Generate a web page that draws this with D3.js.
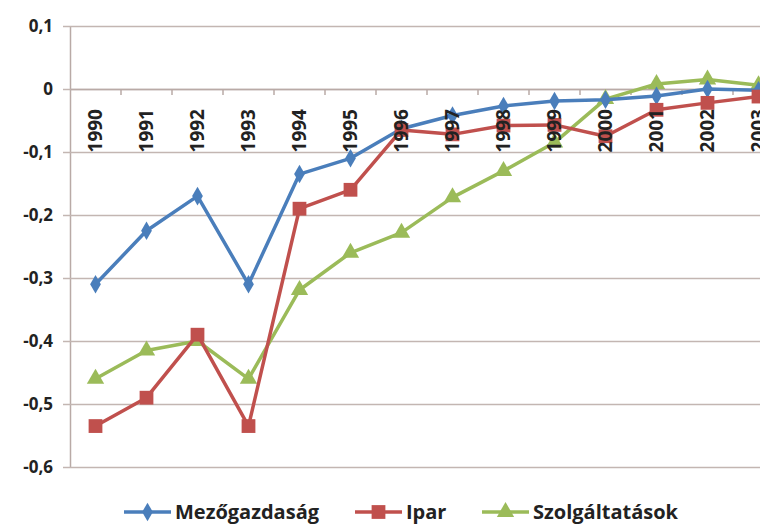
<!DOCTYPE html>
<html>
<head>
<meta charset="utf-8">
<script src="https://cdn.jsdelivr.net/npm/d3@7"></script>
<style>
  body { margin: 0; background: #fff; }
  text { font-family: "Open Sans", sans-serif; font-weight: bold; fill: #222; }
</style>
</head>
<body>
<div id="container-id-1"></div>
<script>

// data
/////////////////////
var years = ['1990','1991','1992','1993','1994','1995','1996','1997','1998','1999','2000','2001','2002','2003'];

var mezogazdasag = [-0.31, -0.225, -0.17, -0.31, -0.135, -0.11, -0.063, -0.042, -0.027, -0.019, -0.017, -0.011, 0.0, -0.002];
var ipar = [-0.535, -0.49, -0.39, -0.535, -0.19, -0.16, -0.065, -0.072, -0.058, -0.057, -0.075, -0.033, -0.022, -0.012];
var szolgaltatasok = [-0.46, -0.415, -0.4, -0.46, -0.319, -0.26, -0.228, -0.172, -0.13, -0.085, -0.016, 0.008, 0.015, 0.006];

var y_ticks = [0.1, 0, -0.1, -0.2, -0.3, -0.4, -0.5, -0.6];

var series_names = ['Mezőgazdaság', 'Ipar', 'Szolgáltatások'];
var series_colors = ['#4a7ebb', '#c0504d', '#9bbb59'];
var series_symbols = [d3.symbolDiamond, d3.symbolSquare, d3.symbolTriangle];
var series_sizes = [100, 190, 130];

var all_series = [mezogazdasag, ipar, szolgaltatasok];

// make chart
////////////////////
var svg_width = 760;
var svg_height = 524;

var plot_left = 70;
var band_w = 51;
var plot_top = 26;
var plot_bottom = 467;

var main_svg = d3.select('#container-id-1')
  .append('svg')
  .attr('width', svg_width)
  .attr('height', svg_height);

var x = d3.scaleBand()
  .domain(years)
  .range([plot_left, plot_left + band_w * years.length]);

var y = d3.scaleLinear()
  .domain([-0.6, 0.1])
  .range([plot_bottom, plot_top]);

var fmt = function(d){
  if (d === 0) return '0';
  return d3.format('.1f')(d).replace('.', ',').replace('−', '-');
};

// gridlines + y axis
var y_axis = d3.axisLeft(y)
  .tickValues(y_ticks)
  .tickSize(-(svg_width - plot_left + 40))
  .tickSizeOuter(0)
  .tickPadding(17)
  .tickFormat(fmt);

var y_g = main_svg.append('g')
  .attr('transform', 'translate(' + plot_left + ',0)')
  .call(y_axis);

y_g.select('.domain').attr('stroke', '#b9aaa6').attr('stroke-width', 1.5);
y_g.selectAll('.tick line')
  .attr('stroke', '#c3b6b2')
  .attr('stroke-width', 1.5)
  .attr('x1', -7);
y_g.selectAll('.tick text')
  .style('font-size', '17px')
  .style('font-family', '"Open Sans", sans-serif')
  .style('font-weight', 'bold')
  .attr('fill', '#222');

// x axis at zero
var x_axis = d3.axisBottom(x)
  .tickSize(0)
  .tickFormat('');

var x_g = main_svg.append('g')
  .attr('transform', 'translate(0,' + y(0) + ')')
  .call(x_axis);
x_g.select('.domain').attr('stroke', '#b9aaa6').attr('stroke-width', 1.5);

// small tick marks between categories
x_g.selectAll('.cat-tick')
  .data(years.slice(1))
  .enter()
  .append('line')
  .attr('x1', function(d){ return x(d); })
  .attr('x2', function(d){ return x(d); })
  .attr('y1', 0)
  .attr('y2', 6)
  .attr('stroke', '#b9aaa6')
  .attr('stroke-width', 1.5);

// lines and markers
var line = d3.line()
  .x(function(d, i){ return x(years[i]) + x.bandwidth()/2; })
  .y(function(d){ return y(d); });

_draw = function(inst_data, i){
  main_svg.append('path')
    .datum(inst_data)
    .attr('fill', 'none')
    .attr('stroke', series_colors[i])
    .attr('stroke-width', 3.5)
    .attr('stroke-linejoin', 'round')
    .attr('d', line);

  main_svg.append('g')
    .selectAll('path')
    .data(inst_data)
    .enter()
    .append('path')
    .attr('transform', function(d, j){
      return 'translate(' + (x(years[j]) + x.bandwidth()/2) + ',' + y(d) + ')';
    })
    .attr('d', d3.symbol().type(series_symbols[i]).size(series_sizes[i]))
    .attr('fill', series_colors[i]);
};

// green first so blue and red sit on top
_draw(all_series[2], 2);
_draw(all_series[0], 0);
_draw(all_series[1], 1);

// rotated year labels (drawn over the lines, like the original)
main_svg.append('g')
  .selectAll('text')
  .data(years)
  .enter()
  .append('text')
  .attr('transform', function(d){
    return 'translate(' + (x(d) + x.bandwidth()/2) + ',' + (y(0) + 20) + ') rotate(-90)';
  })
  .attr('text-anchor', 'end')
  .attr('dy', '0.36em')
  .style('font-size', '19px')
  .text(function(d){ return d; });

// legend
var legend_x = [124, 355, 482];
var legend_y = 512;

var leg = main_svg.append('g')
  .selectAll('g')
  .data(series_names)
  .enter()
  .append('g')
  .attr('transform', function(d, i){ return 'translate(' + legend_x[i] + ',' + legend_y + ')'; });

leg.append('line')
  .attr('x1', 0)
  .attr('x2', 47)
  .attr('stroke', function(d, i){ return series_colors[i]; })
  .attr('stroke-width', 3.5);

leg.append('path')
  .attr('transform', 'translate(23.5,0)')
  .attr('d', function(d, i){ return d3.symbol().type(series_symbols[i]).size(series_sizes[i])(); })
  .attr('fill', function(d, i){ return series_colors[i]; });

leg.append('text')
  .attr('x', 51)
  .attr('dy', '0.35em')
  .style('font-size', '20px')
  .text(function(d){ return d; });

</script>
</body>
</html>
